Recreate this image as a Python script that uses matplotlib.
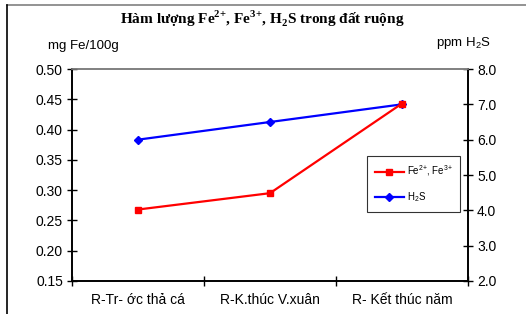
import matplotlib.pyplot as plt
from matplotlib.lines import Line2D

plt.rcParams['font.family'] = ['Liberation Sans', 'DejaVu Sans']
plt.rcParams['mathtext.fontset'] = 'custom'
plt.rcParams['mathtext.bf'] = 'Liberation Serif:bold'
plt.rcParams['mathtext.sf'] = 'Liberation Sans'
plt.rcParams['mathtext.rm'] = 'Liberation Sans'

# du lieu
categories = ['R-Tr- ớc thả cá', 'R-K.thúc V.xuân', 'R- Kết thúc năm']
fe_values = [0.268, 0.295, 0.443]
h2s_values = [6.0, 6.5, 7.0]

fig = plt.figure(figsize=(5.26, 3.14), dpi=100)
ax = fig.add_axes([72/526, 1-281/314, 396/526, 212/314])
ax2 = ax.twinx()

x = list(range(len(categories)))
l1, = ax.plot(x, fe_values, color='#ff0000', lw=1.6, marker='s', ms=5,
              label='Fe$^{\\mathsf{2{+}}}$, Fe$^{\\mathsf{3{+}}}$')
l2, = ax2.plot(x, h2s_values, color='#0000ff', lw=1.6, marker='D', ms=4.5, label='H$_{\\mathsf{2}}$S')
ax.set_zorder(ax2.get_zorder() + 1)
ax.patch.set_visible(False)

ax.set_xlim(-0.5, 2.5)
ax.set_ylim(0.15, 0.50)
ax2.set_ylim(2.0, 8.0)
ax.set_yticks([0.15, 0.20, 0.25, 0.30, 0.35, 0.40, 0.45, 0.50])
ax.set_yticklabels(['%.2f' % v for v in ax.get_yticks()])
ax2.set_yticks([2, 3, 4, 5, 6, 7, 8])
ax2.set_yticklabels(['%.1f' % v for v in ax2.get_yticks()])

ax.set_xticks([-0.5, 0.5, 1.5, 2.5])
ax.set_xticklabels([])
ax.set_xticks(x, minor=True)
ax.set_xticklabels(categories, minor=True, fontsize=10)
ax.tick_params(axis='x', which='minor', length=0, pad=9)
ax.tick_params(axis='x', which='major', direction='inout', length=7, width=1)
ax.tick_params(axis='y', direction='inout', length=7, width=1, labelsize=10, pad=3)
ax2.tick_params(axis='y', direction='inout', length=7, width=1, labelsize=10, pad=3)

for a in (ax, ax2):
    for s in ['left', 'right', 'bottom']:
        a.spines[s].set_color('black')
        a.spines[s].set_linewidth(1.2)
    a.spines['top'].set_color('#808080')
    a.spines['top'].set_linewidth(1.2)

fig.text(262/526, 1-19/314, 'Hàm lượng Fe$^{\\mathbf{2{+}}}$, Fe$^{\\mathbf{3{+}}}$, H$_{\\mathbf{2}}$S trong đất ruộng',
         ha='center', va='center', fontsize=11, fontweight='bold', family='Liberation Serif')
fig.text(48/526, 1-46/314, 'mg Fe/100g', ha='left', va='center', fontsize=9.5)
fig.text(491/526, 1-43/314, 'ppm H$_{\\mathsf{2}}$S', ha='right', va='center', fontsize=9.5)

leg = ax.legend(handles=[l1, l2], loc='upper left', bbox_to_anchor=(362/526, 1-151/314),
                bbox_transform=fig.transFigure, fontsize=7, frameon=True, fancybox=False,
                edgecolor='black', handlelength=3, labelspacing=1.2, borderpad=0.8,
                handletextpad=0.3)
leg.get_frame().set_linewidth(0.8)

# khung ngoai
fig.add_artist(Line2D([7/526, 1], [1-5/314, 1-5/314], color='#808080', lw=1.2, transform=fig.transFigure))
fig.add_artist(Line2D([7/526, 7/526], [0, 1-5/314], color='black', lw=1.2, transform=fig.transFigure))

plt.savefig('out.png', dpi=100)
